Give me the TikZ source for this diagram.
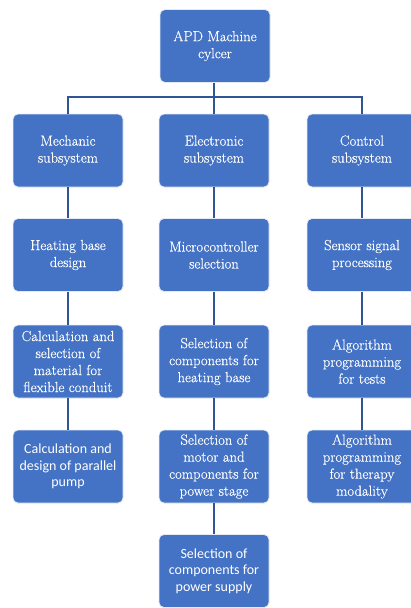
\documentclass[tikz,border=0pt]{standalone}
\usepackage{fontspec}
\setmainfont{Latin Modern Roman}[FakeBold=0.4]
\setsansfont{Carlito}
\definecolor{boxblue}{HTML}{4472C4}
\definecolor{lineblue}{HTML}{2F5597}
\tikzset{
  box/.style={draw=white!85!boxblue, line width=0.8pt, fill=boxblue, rounded corners=5pt,
    minimum width=110pt, minimum height=73pt, inner sep=2pt, align=center,
    text=white, font=\fontsize{14.6}{17}\selectfont},
  sbox/.style={box, font=\sffamily\fontsize{14}{16.5}\selectfont},
  conn/.style={draw=lineblue, line width=1.4pt}
}
\begin{document}
\begin{tikzpicture}[x=1pt,y=1pt]
\useasboundingbox (0,0) rectangle (411,-608);
\node[box] (top) at (215,-46) {APD Machine\\cylcer};
\node[box] (mech) at (68,-150.5) {Mechanic\\subsystem};
\node[box] (elec) at (214,-150.5) {Electronic\\subsystem};
\node[box] (ctrl) at (362,-150.5) {Control\\subsystem};
\node[box] (heat) at (68,-255) {Heating base\\design};
\node[box] (micro) at (214,-255) {Microcontroller\\selection};
\node[box] (sens) at (362,-255) {Sensor signal\\processing};
\node[box] (calc) at (68,-361.5) {Calculation and\\selection of\\material for\\flexible conduit};
\node[box] (selh) at (214,-361.5) {Selection of\\components for\\heating base};
\node[box] (algt) at (362,-361.5) {Algorithm\\programming\\for tests};
\node[sbox] (pump) at (68,-466.5) {Calculation and\\design of parallel\\pump};
\node[box] (motor) at (214,-466.5) {Selection of\\motor and\\components for\\power stage};
\node[box] (algm) at (362,-466.5) {Algorithm\\programming\\for therapy\\modality};
\node[sbox] (psup) at (214,-571) {Selection of\\components for\\power supply};
\coordinate (bar) at (214,-97);
\draw[conn] (elec.north |- top.south) -- (elec.north);
\draw[conn] (mech.north) |- (bar) -| (ctrl.north);
\draw[conn] (mech) -- (heat);
\draw[conn] (heat) -- (calc);
\draw[conn] (calc) -- (pump);
\draw[conn] (elec) -- (micro);
\draw[conn] (micro) -- (selh);
\draw[conn] (selh) -- (motor);
\draw[conn] (motor) -- (psup);
\draw[conn] (ctrl) -- (sens);
\draw[conn] (sens) -- (algt);
\draw[conn] (algt) -- (algm);
\end{tikzpicture}
\end{document}
